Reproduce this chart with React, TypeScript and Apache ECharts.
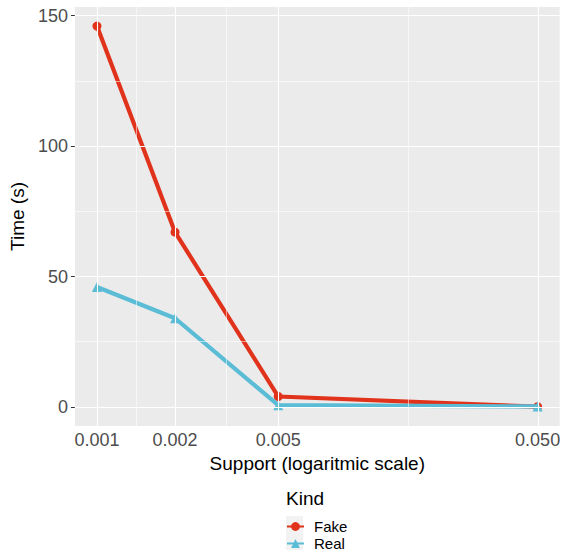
import React, { useEffect, useRef } from "react";
import * as echarts from "echarts";

const supports = [0.001, 0.002, 0.005, 0.05];
const fakeTimes = [146, 67, 4, 0.1];
const realTimes = [46, 34, 0.7, 0.2];
const xTickValues = [0.001, 0.002, 0.005, 0.05];
const xTickLabels = ["0.001", "0.002", "0.005", "0.050"];
const yTickValues = [0, 50, 100, 150];
const yMinorValues = [25, 75, 125];
const seriesNames = ["Fake", "Real"];
const legendTitle = "Kind";
const xTitle = "Support (logaritmic scale)";
const yTitle = "Time (s)";

const FONT = "'Liberation Sans', Arial, Helvetica, sans-serif";
const RED = "#E1321B";
const BLUE = "#5BBCD6";

export default function App() {
  const ref = useRef<HTMLDivElement>(null);
  useEffect(() => {
    const chart = echarts.init(ref.current!, null, { renderer: "svg" });
    const lx = (v: number) => Math.log10(v);
    const xMajor = xTickValues.map(lx);
    const xMinor = xMajor.slice(1).map((v, i) => (v + xMajor[i]) / 2);
    const sx = supports.map(lx);
    const xLo = Math.min(...sx), xHi = Math.max(...sx);
    const xPad = (xHi - xLo) * 0.05;
    const allY = [...fakeTimes, ...realTimes];
    const yLo = Math.min(0, ...allY), yHi = Math.max(...allY);
    const yPad = (yHi - yLo) * 0.05;

    const gridData: any[] = [
      ...xMinor.map((v) => ({ xAxis: v, lineStyle: { width: 0.55 } })),
      ...yMinorValues.map((v) => ({ yAxis: v, lineStyle: { width: 0.55 } })),
      ...xMajor.map((v) => ({ xAxis: v, lineStyle: { width: 1.1 } })),
      ...yTickValues.map((v) => ({ yAxis: v, lineStyle: { width: 1.1 } })),
    ];

    const xLabel = (val: number) => {
      for (let i = 0; i < xMajor.length; i++) {
        if (Math.abs(xMajor[i] - val) < 1e-6) return xTickLabels[i];
      }
      return "";
    };

    const legendBase = {
      orient: "vertical",
      left: 286,
      itemWidth: 17,
      itemHeight: 11,
      itemGap: 0,
      padding: 0,
      textStyle: {
        fontSize: 15,
        color: "#000",
        fontFamily: FONT,
        padding: [0, 0, 0, 5],
      },
    };

    chart.setOption({
      animation: false,
      grid: {
        left: 72,
        top: 7,
        width: 489,
        height: 419,
        show: true,
        backgroundColor: "#EBEBEB",
        borderWidth: 0,
      },
      xAxis: {
        type: "value",
        min: xLo - xPad,
        max: xHi + xPad,
        name: xTitle,
        nameLocation: "middle",
        nameGap: 25,
        nameTextStyle: { fontSize: 19, color: "#000", fontFamily: FONT },
        axisLine: { show: false },
        splitLine: { show: false },
        axisTick: {
          show: true,
          customValues: xMajor,
          length: 4,
          lineStyle: { color: "#333333", width: 1 },
        },
        axisLabel: {
          customValues: xMajor,
          formatter: xLabel,
          fontSize: 18,
          color: "#4D4D4D",
          fontFamily: FONT,
          margin: 5,
        },
      },
      yAxis: {
        type: "value",
        min: yLo - yPad,
        max: yHi + yPad,
        name: yTitle,
        nameLocation: "middle",
        nameGap: 42,
        nameRotate: 90,
        nameTextStyle: { fontSize: 19, color: "#000", fontFamily: FONT },
        axisLine: { show: false },
        splitLine: { show: false },
        axisTick: {
          show: true,
          customValues: yTickValues,
          length: 4,
          lineStyle: { color: "#333333", width: 1 },
        },
        axisLabel: {
          customValues: yTickValues,
          fontSize: 18,
          color: "#4D4D4D",
          fontFamily: FONT,
          margin: 7,
        },
      },
      legend: [
        { ...legendBase, data: [seriesNames[0]], top: 519 },
        { ...legendBase, data: [seriesNames[1]], top: 536 },
      ],
      graphic: [
        {
          type: "rect",
          left: 286,
          top: 516,
          shape: { width: 17, height: 34 },
          style: { fill: "#F2F2F2" },
          z: 0,
        },
        {
          type: "text",
          left: 286,
          top: 489,
          style: { text: legendTitle, fontSize: 19, fill: "#000", fontFamily: FONT },
        },
      ],
      series: [
        {
          type: "line",
          name: "_grid",
          data: [],
          z: 1,
          silent: true,
          markLine: {
            silent: true,
            symbol: "none",
            label: { show: false },
            lineStyle: { color: "#FFFFFF", type: "solid" },
            data: gridData,
          },
        },
        {
          type: "line",
          name: seriesNames[0],
          data: sx.map((x, i) => [x, fakeTimes[i]]),
          z: 3,
          symbol: "circle",
          symbolSize: 9,
          lineStyle: { color: RED, width: 4.2 },
          itemStyle: { color: RED },
        },
        {
          type: "line",
          name: seriesNames[1],
          data: sx.map((x, i) => [x, realTimes[i]]),
          z: 4,
          symbol: "triangle",
          symbolSize: 10,
          lineStyle: { color: BLUE, width: 4.2 },
          itemStyle: { color: BLUE },
        },
      ],
    });
    return () => chart.dispose();
  }, []);
  return (
    <div
      ref={ref}
      style={{ position: "fixed", left: 0, top: 0, width: 563, height: 552, background: "#fff" }}
    />
  );
}
